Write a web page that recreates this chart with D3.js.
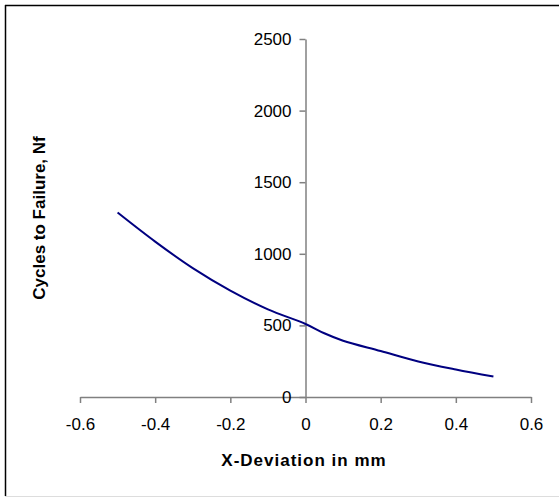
<!DOCTYPE html>
<html>
<head>
<meta charset="utf-8">
<script src="https://cdn.jsdelivr.net/npm/d3@7"></script>
<style>
  body { margin: 0; background: #fff; }
  svg { display: block; font-family: "Liberation Sans", Arial, sans-serif; }
</style>
</head>
<body>
<div id="chart"></div>
<script>
const deviation = [-0.5, -0.4, -0.3, -0.2, -0.1, 0, 0.05, 0.1, 0.2, 0.3, 0.4, 0.5];
const cycles = [1288, 1085, 900, 743, 612, 510, 445, 393, 321, 248, 192, 143];
const xTicks = [-0.6, -0.4, -0.2, 0, 0.2, 0.4, 0.6];
const yTicks = [0, 500, 1000, 1500, 2000, 2500];

const W = 559, H = 498;
const svg = d3.select("#chart").append("svg").attr("width", W).attr("height", H);

// frame
svg.append("line").attr("x1", 5).attr("x2", W).attr("y1", 5.5).attr("y2", 5.5)
  .attr("stroke", "#000").attr("stroke-width", 1.5);
svg.append("line").attr("x1", 5.5).attr("x2", 5.5).attr("y1", 5).attr("y2", 496)
  .attr("stroke", "#000").attr("stroke-width", 1.5);
svg.append("line").attr("x1", 5).attr("x2", W).attr("y1", 496.5).attr("y2", 496.5)
  .attr("stroke", "#ddd").attr("stroke-width", 1);

const x = d3.scaleLinear().domain([-0.6, 0.6]).range([80, 531]);
const y = d3.scaleLinear().domain([0, 2500]).range([397, 39]);

const axisColor = "#808080";
const font = "Liberation Sans, Arial, sans-serif";

// x axis through y=0
svg.append("g")
  .attr("transform", `translate(0,${y(0)})`)
  .call(d3.axisBottom(x).tickValues(xTicks).tickSize(6).tickSizeOuter(0)
    .tickFormat(d => d === 0 ? "0" : d.toFixed(1)))
  .call(g => g.select(".domain").attr("stroke", axisColor).attr("stroke-width", 1.5))
  .call(g => g.selectAll(".tick line").attr("stroke", axisColor).attr("stroke-width", 1.5))
  .call(g => g.selectAll(".tick text").attr("fill", "#000").attr("font-size", 17)
    .attr("font-family", font).attr("dy", "1.4em"));

// y axis through x=0
svg.append("g")
  .attr("transform", `translate(${x(0)},0)`)
  .call(d3.axisLeft(y).tickValues(yTicks).tickSize(6).tickSizeOuter(0).tickPadding(8)
    .tickFormat(d => String(d)))
  .call(g => g.select(".domain").attr("stroke", axisColor).attr("stroke-width", 1.5))
  .call(g => g.selectAll(".tick line").attr("stroke", axisColor).attr("stroke-width", 1.5))
  .call(g => g.selectAll(".tick text").attr("fill", "#000").attr("font-size", 17)
    .attr("font-family", font));

const line = d3.line()
  .x((d, i) => x(deviation[i]))
  .y(d => y(d))
  .curve(d3.curveCatmullRom.alpha(0.5));

svg.append("path")
  .datum(cycles)
  .attr("fill", "none")
  .attr("stroke", "#000080")
  .attr("stroke-width", 2)
  .attr("d", line);

// axis titles
svg.append("text")
  .attr("x", 304).attr("y", 465.5)
  .attr("text-anchor", "middle")
  .attr("font-size", 17).attr("font-weight", "bold")
  .attr("letter-spacing", "1px")
  .text("X-Deviation in mm");

svg.append("text")
  .attr("transform", `translate(45,218) rotate(-90)`)
  .attr("text-anchor", "middle")
  .attr("font-size", 17).attr("font-weight", "bold")
  .text("Cycles to Failure, Nf");
</script>
</body>
</html>
